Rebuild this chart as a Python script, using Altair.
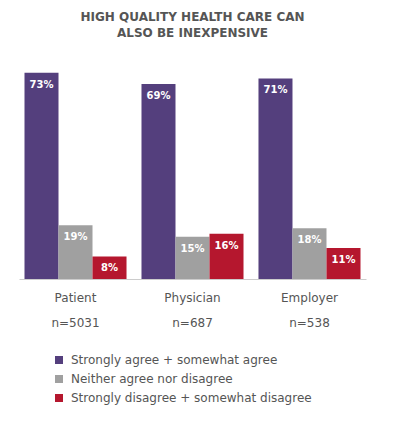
import altair as alt
import pandas as pd

groups = ["Patient", "Physician", "Employer"]
ns = ["n=5031", "n=687", "n=538"]
series = ["Strongly agree + somewhat agree", "Neither agree nor disagree", "Strongly disagree + somewhat disagree"]
values = [[73, 19, 8], [69, 15, 16], [71, 18, 11]]
colors = ["#543f7d", "#a0a0a0", "#b5172e"]

rows = []
for g, vals in zip(groups, values):
    for s, v in zip(series, vals):
        rows.append({"group": g, "series": s, "value": v, "label": f"{v}%"})
df = pd.DataFrame(rows)
gdf = pd.DataFrame({"group": groups, "n": ns})

W, H = 347, 226
FONT = "DejaVu Sans"

x = alt.X("group:N", sort=groups, title=None,
          scale=alt.Scale(paddingInner=0.128, paddingOuter=0.047),
          axis=alt.Axis(labels=False, ticks=False, domainColor="#cccccc", domainWidth=1))
xo = alt.XOffset("series:N", sort=series, scale=alt.Scale(paddingInner=0, paddingOuter=0))
y = alt.Y("value:Q", scale=alt.Scale(domain=[0, 80]), axis=None)

bars = alt.Chart(df).mark_bar().encode(
    x=x, xOffset=xo, y=y,
    color=alt.Color("series:N", sort=series, scale=alt.Scale(domain=series, range=colors),
                    legend=alt.Legend(title=None, orient="none", legendX=34, legendY=301,
                                      symbolType="square", symbolSize=64, symbolStrokeWidth=0,
                                      labelFont=FONT, labelFontSize=12, labelColor="#555555",
                                      labelOffset=6, rowPadding=7, padding=0, labelLimit=400,
                                      symbolOpacity=1))
)

texts = alt.Chart(df).mark_text(dy=12, baseline="middle", color="white", fontWeight="bold",
                                fontSize=10, font=FONT).encode(
    x=x, xOffset=xo, y=y, text="label:N"
)

cat = alt.Chart(gdf).mark_text(baseline="middle", fontSize=12, font=FONT, color="#555555").encode(
    x=alt.X("group:N", sort=groups), y=alt.value(H + 19), text="group:N"
)
nlab = alt.Chart(gdf).mark_text(baseline="middle", fontSize=12, font=FONT, color="#555555").encode(
    x=alt.X("group:N", sort=groups), y=alt.value(H + 44), text="n:N"
)

chart = alt.layer(bars, texts, cat, nlab).properties(
    width=W, height=H,
    title=alt.Title(["HIGH QUALITY HEALTH CARE CAN", "ALSO BE INEXPENSIVE"],
                    anchor="middle", font=FONT, fontSize=12, fontWeight="bold",
                    color="#555555", lineHeight=16, offset=13),
    autosize=alt.AutoSizeParams(type="none"),
    padding={"left": 11, "top": 45, "right": 20, "bottom": 142},
).configure_view(stroke=None)

chart.save("out.html", embed_options={"renderer": "svg", "actions": False})
